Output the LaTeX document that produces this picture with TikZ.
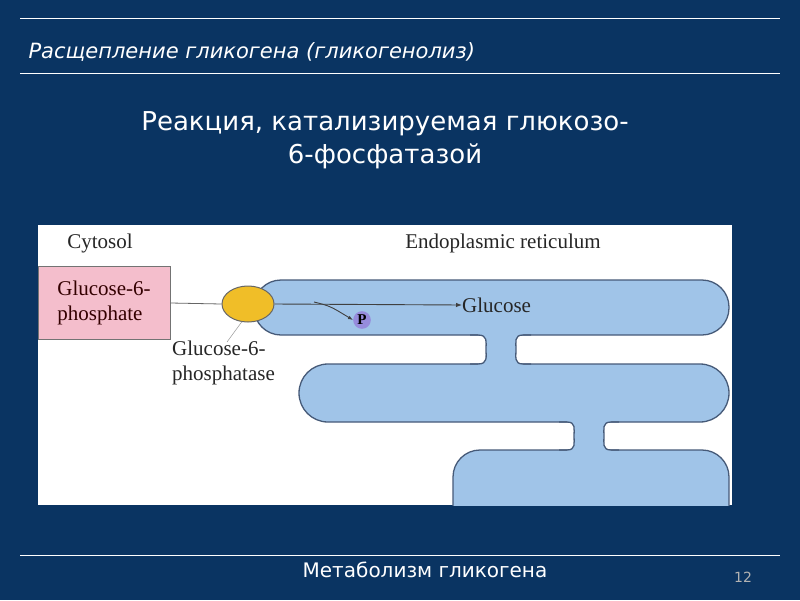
\documentclass[tikz,border=0pt]{standalone}
\usepackage{fontspec}
\setmainfont{DejaVu Sans}
\newfontfamily\dser{Liberation Serif}
\usetikzlibrary{arrows.meta,shapes.geometric}
\definecolor{bg}{RGB}{10,52,98}
\definecolor{er}{RGB}{160,196,232}
\definecolor{erd}{RGB}{70,90,120}
\definecolor{pinkb}{RGB}{244,190,204}
\definecolor{yel}{RGB}{240,190,40}
\definecolor{purp}{RGB}{150,140,220}
\tikzset{tube/.style={fill=er,draw=erd,line width=1.3pt},
 neck/.style={draw=erd,line width=1.3pt},
 lab/.style={font=\dser\fontsize{21}{25}\selectfont,text=black!85,align=left,inner sep=0pt},
 wt/.style={text=white}}
\begin{document}
\begin{tikzpicture}[x=1pt,y=-1pt]
\fill[bg] (0,0) rectangle (800,600);
\useasboundingbox (0,0) rectangle (800,600);
\draw[white,line width=0.6pt] (20,18) -- (780,18) (20,73) -- (780,73) (20,555) -- (780,555);
\node[wt,anchor=west,font=\itshape\fontsize{21}{21}\selectfont] (title) at (25,52) {Расщепление гликогена (гликогенолиз)};
\node[wt,align=center,font=\fontsize{26}{33}\selectfont] (head) at (385,140) {Реакция, катализируемая глюкозо-\\6-фосфатазой};
\node[wt,font=\fontsize{20}{20}\selectfont] (foot) at (425,570) {Метаболизм гликогена};
\node[text=black!30!white,font=\fontsize{14}{14}\selectfont] (num) at (743,577) {12};
\begin{scope}
\clip (38,225) rectangle (732,505);
\fill[white] (38,225) rectangle (732,505);
% tubes
\draw[tube,rounded corners=27pt] (254,280) rectangle (729,335);
\draw[tube,rounded corners=29pt] (299,364) rectangle (729,422);
\draw[tube,rounded corners=27pt] (453,450) rectangle (729,540);
% necks
\fill[er] (478,331) -- (478,335) .. controls (488,335) and (486,342) .. (486,349) .. controls (486,357) and (488,364) .. (478,364) -- (478,368) -- (523,368) -- (523,364) .. controls (514,364) and (516,357) .. (516,349) .. controls (516,342) and (514,335) .. (523,335) -- (523,331) -- cycle;
\draw[neck] (470,335) -- (478,335) .. controls (488,335) and (486,342) .. (486,349) .. controls (486,357) and (488,364) .. (478,364) -- (470,364);
\draw[neck] (531,335) -- (523,335) .. controls (514,335) and (516,342) .. (516,349) .. controls (516,357) and (514,364) .. (523,364) -- (531,364);
\fill[er] (567,418) -- (567,422) .. controls (576,422) and (574,429) .. (574,436) .. controls (574,443) and (576,450) .. (567,450) -- (567,454) -- (611,454) -- (611,450) .. controls (602,450) and (604,443) .. (604,436) .. controls (604,429) and (602,422) .. (611,422) -- (611,418) -- cycle;
\draw[neck] (559,422) -- (567,422) .. controls (576,422) and (574,429) .. (574,436) .. controls (574,443) and (576,450) .. (567,450) -- (559,450);
\draw[neck] (619,422) -- (611,422) .. controls (602,422) and (604,429) .. (604,436) .. controls (604,443) and (602,450) .. (611,450) -- (619,450);
\end{scope}
\node[lab] (cyt) at (100,243) {Cytosol};
\node[lab] (erl) at (503,243) {Endoplasmic reticulum};
\node[draw=black!55,line width=1pt,fill=pinkb,minimum width=132pt,minimum height=73pt,lab,align=left,inner sep=4pt,text=black!80!red] (g6p) at (104,303) {Glucose-6-\\phosphate};
\node[draw=black!60,fill=yel,ellipse,minimum width=52pt,minimum height=36pt,inner sep=0pt,line width=1pt] (enz) at (248,304) {};
\node[lab,anchor=west] (glc) at (462,305) {Glucose};
\node[circle,fill=purp,inner sep=1.5pt,font=\dser\bfseries\fontsize{15}{15}\selectfont] (p) at (362,320) {P};
\node[lab,anchor=north west] (enzl) at (172,341) {Glucose-6-\\phosphatase};
\draw[black!60,line width=0.8pt] (g6p.east) -- (enz.west);
\draw[black!75,line width=0.9pt,-{Latex[length=6pt]}] (enz.east) -- (glc.west);
\draw[black!75,line width=0.9pt,-{Latex[length=5pt]}] (314,302) .. controls (330,306) .. (p.west);
\draw[black!40,line width=0.5pt] (enz.south) ++(-6,-1) -- (227,342);
\end{tikzpicture}
\end{document}
